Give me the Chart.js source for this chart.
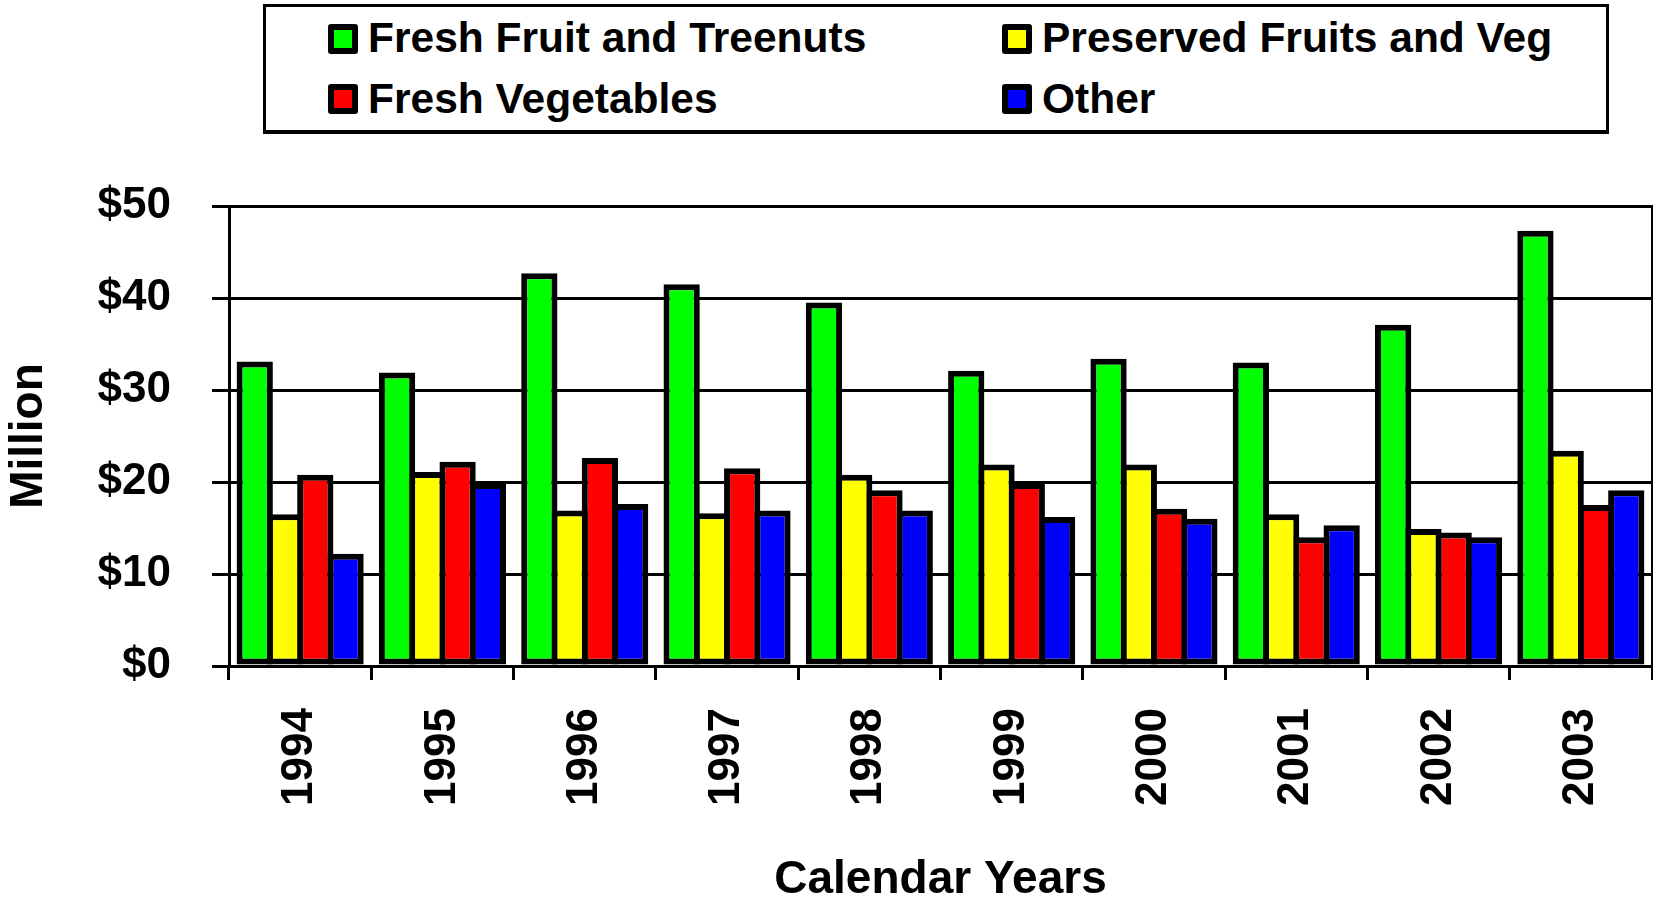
<!DOCTYPE html>
<html>
<head>
<meta charset="utf-8">
<script src="https://cdn.jsdelivr.net/npm/chart.js@4.4.1/dist/chart.umd.min.js"></script>
<style>
  body { margin: 0; background: #fff; }
  #wrap { position: relative; width: 1653px; height: 903px; }
  #legend {
    position: absolute; left: 263px; top: 4px; width: 1278px; height: 122px;
    border: 3px solid #000; border-bottom-width: 4px; background: #fff;
    display: grid; grid-template-columns: 674px auto; grid-template-rows: 61px 60px;
    padding-left: 62px; padding-top: 1px; box-sizing: content-box;
    font: bold 42.5px 'Liberation Sans', Arial, sans-serif;
  }
  #legend div { display: flex; align-items: center; line-height: 1; white-space: nowrap; }
  #legend span.box {
    width: 18px; height: 18px; border: 6px solid #000; border-radius: 3px; margin-right: 10px;
  }
</style>
</head>
<body>
<div id="wrap">
  <canvas id="chart_bar" width="1653" height="903"></canvas>
  <div id="legend"></div>
</div>
<script>
let years = ['1994', '1995', '1996', '1997', '1998', '1999', '2000', '2001', '2002', '2003'];
let freshFruit = [33.1, 31.9, 42.7, 41.5, 39.5, 32.1, 33.4, 33.0, 37.1, 47.3];
let preserved = [16.5, 21.1, 16.9, 16.6, 20.8, 21.9, 21.9, 16.5, 14.9, 23.4];
let freshVeg = [20.8, 22.2, 22.6, 21.5, 19.1, 19.9, 17.1, 14.0, 14.5, 17.5];
let other = [12.2, 19.9, 17.6, 16.9, 16.9, 16.2, 16.0, 15.3, 14.0, 19.1];
let yTicks = [0, 10, 20, 30, 40, 50];

let font = "'Liberation Sans', Arial, sans-serif";

function bars(label, data, color) {
    return {
        label: label,
        data: data,
        backgroundColor: color,
        borderColor: '#000',
        borderWidth: 6,
        borderSkipped: false,
        categoryPercentage: 0.851,
        barPercentage: 1.198
    };
}

let ctx_bar = document.getElementById('chart_bar');

let chart_bar = new Chart(ctx_bar, {
    type: 'bar',
    data: {
        labels: years,
        datasets: [
            bars('Fresh Fruit and Treenuts', freshFruit, '#00ff00'),
            bars('Preserved Fruits and Veg', preserved, '#ffff00'),
            bars('Fresh Vegetables', freshVeg, '#ff0000'),
            bars('Other', other, '#0000ff')
        ]
    },
    options: {
        responsive: false,
        maintainAspectRatio: false,
        animation: false,
        layout: { padding: { top: 206, right: 1, left: 0, bottom: 0 } },
        plugins: {
            legend: { display: false },
            tooltip: { enabled: false }
        },
        scales: {
            x: {
                offset: true,
                grid: { drawOnChartArea: false, color: '#000', lineWidth: 3, tickLength: 14 },
                border: { color: '#000', width: 3 },
                ticks: {
                    color: '#000', minRotation: 90, maxRotation: 90, autoSkip: false, padding: 28,
                    font: { family: font, size: 44, weight: 'bold' }
                },
                title: {
                    display: true, text: 'Calendar Years', color: '#000',
                    padding: { top: 0, bottom: 0 },
                    font: { family: font, size: 46, weight: 'bold', lineHeight: 1.0 }
                },
                afterFit: function (scale) {
                    scale.height = 237;
                    scale.paddingLeft = 0;
                    scale.paddingRight = 0;
                }
            },
            y: {
                min: 0,
                max: 50,
                afterBuildTicks: function (scale) {
                    scale.ticks = yTicks.map(v => ({ value: v }));
                },
                grid: { color: '#000', lineWidth: 3, tickLength: 17 },
                border: { color: '#000', width: 3 },
                ticks: {
                    color: '#000', padding: 41,
                    font: { family: font, size: 44, weight: 'bold' },
                    callback: v => '$' + v
                },
                title: {
                    display: true, text: 'Million', color: '#000',
                    padding: { top: 2, bottom: 0 },
                    font: { family: font, size: 46, weight: 'bold' }
                },
                afterFit: function (scale) { scale.width = 229; }
            },
            y2: {
                position: 'right',
                grid: { drawOnChartArea: false, drawTicks: false },
                border: { color: '#000', width: 3 },
                ticks: { display: false },
                afterFit: function (scale) { scale.width = 0; }
            }
        }
    }
});

// legend laid out in two columns like the original
let legend = document.getElementById('legend');
chart_bar.data.datasets.forEach(ds => {
    let item = document.createElement('div');
    let box = document.createElement('span');
    box.className = 'box';
    box.style.background = ds.backgroundColor;
    item.appendChild(box);
    item.appendChild(document.createTextNode(ds.label));
    legend.appendChild(item);
});
</script>
</body>
</html>
